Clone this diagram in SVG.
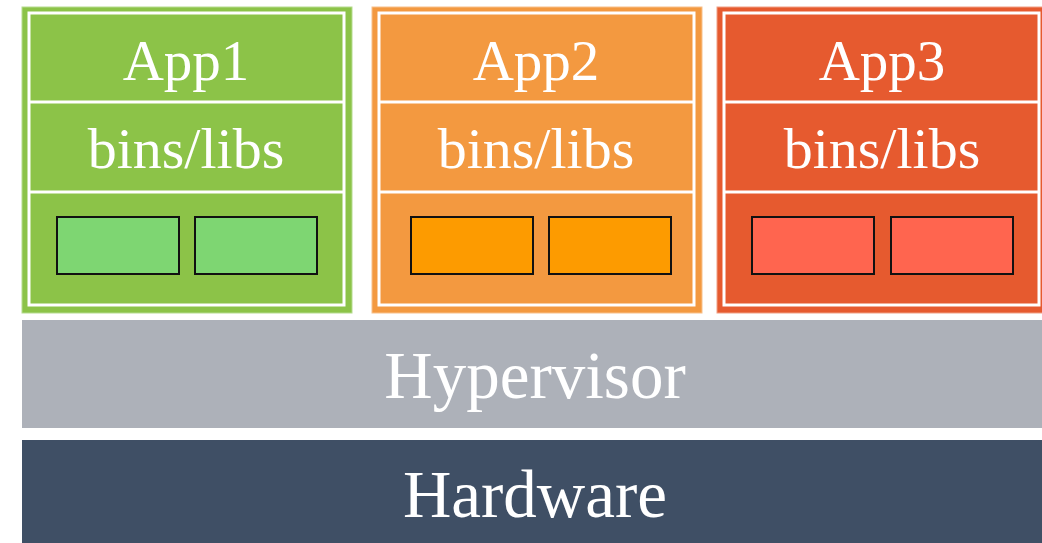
<svg xmlns="http://www.w3.org/2000/svg" width="1042" height="543" viewBox="0 0 1042 543">
  <style>
    .frame { stroke: #ffffff; stroke-width: 3; fill: none; }
    .div { stroke: #ffffff; stroke-width: 3; }
    .lib { stroke: #111111; stroke-width: 2; }
    .t { font-family: "Liberation Serif", "DejaVu Serif", serif; fill: #ffffff; text-anchor: middle; }
    .app { font-size: 57px; }
    .bins { font-size: 58px; }
    .layer { font-size: 67px; }
  </style>
  <rect width="1042" height="543" fill="#ffffff"/>

  <!-- VM 1 -->
  <g id="vm1">
    <rect x="22" y="7" width="330" height="306" fill="#8CC348" stroke="#B5DB8E" stroke-width="1"/>
    <rect class="frame" x="29" y="13" width="315" height="292"/>
    <line class="div" x1="29" y1="102" x2="344" y2="102"/>
    <line class="div" x1="29" y1="192" x2="344" y2="192"/>
    <text class="t app" x="186" y="80">App1</text>
    <text class="t bins" x="186" y="168">bins/libs</text>
    <rect class="lib" x="57" y="217" width="122" height="57" fill="#7ED672"/>
    <rect class="lib" x="195" y="217" width="122" height="57" fill="#7ED672"/>
  </g>

  <!-- VM 2 -->
  <g id="vm2">
    <rect x="372" y="7" width="330" height="306" fill="#F39940" stroke="#F8C08A" stroke-width="1"/>
    <rect class="frame" x="379" y="13" width="315" height="292"/>
    <line class="div" x1="379" y1="102" x2="694" y2="102"/>
    <line class="div" x1="379" y1="192" x2="694" y2="192"/>
    <text class="t app" x="536" y="80">App2</text>
    <text class="t bins" x="536" y="168">bins/libs</text>
    <rect class="lib" x="411" y="217" width="122" height="57" fill="#FD9B00"/>
    <rect class="lib" x="549" y="217" width="122" height="57" fill="#FD9B00"/>
  </g>

  <!-- VM 3 -->
  <g id="vm3">
    <rect x="717" y="7" width="330" height="306" fill="#E65A2F" stroke="#F0A085" stroke-width="1"/>
    <rect class="frame" x="724" y="13" width="315" height="292"/>
    <line class="div" x1="724" y1="102" x2="1039" y2="102"/>
    <line class="div" x1="724" y1="192" x2="1039" y2="192"/>
    <text class="t app" x="882" y="80">App3</text>
    <text class="t bins" x="882" y="168">bins/libs</text>
    <rect class="lib" x="752" y="217" width="122" height="57" fill="#FF654F"/>
    <rect class="lib" x="891" y="217" width="122" height="57" fill="#FF654F"/>
  </g>

  <!-- Hypervisor layer -->
  <g id="hypervisor">
    <rect x="22" y="320" width="1020" height="108" fill="#ADB1B9"/>
    <text class="t layer" x="535" y="398">Hypervisor</text>
  </g>

  <!-- Hardware layer -->
  <g id="hardware">
    <rect x="22" y="440" width="1020" height="103" fill="#3F4F65"/>
    <text class="t layer" x="535" y="517">Hardware</text>
  </g>

  <g id="connectors"/>
</svg>
